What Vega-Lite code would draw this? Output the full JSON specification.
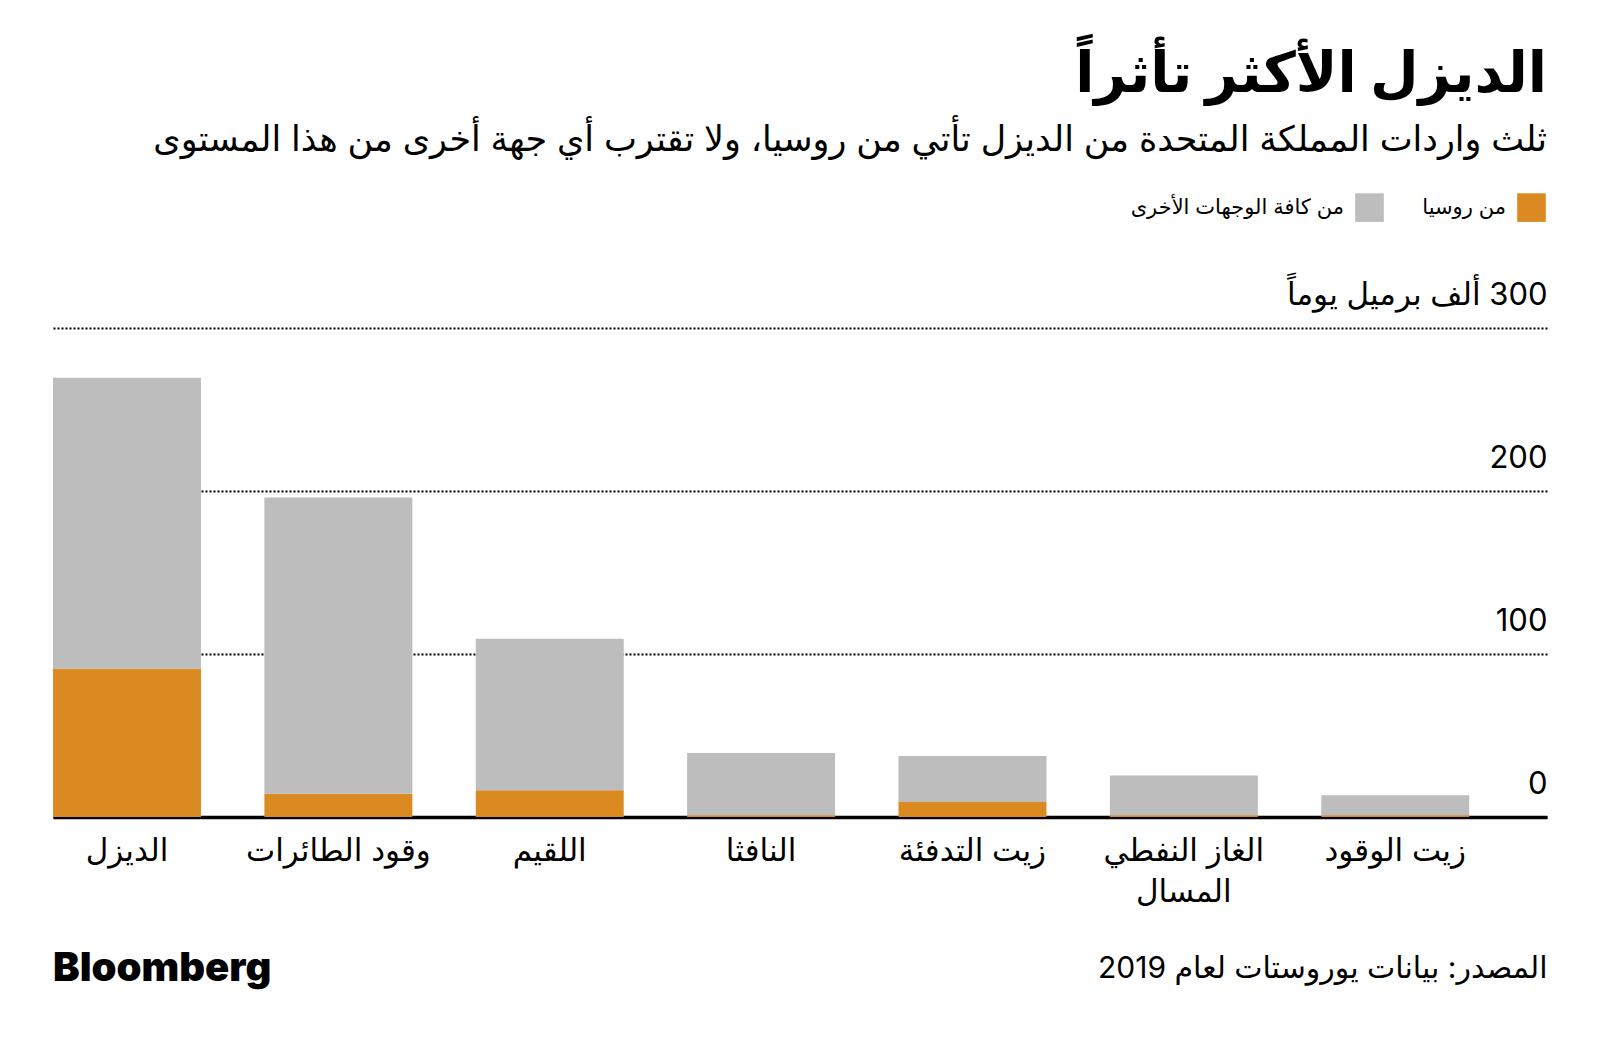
{
  "$schema": "https://vega.github.io/schema/vega-lite/v6.json",
  "background": "white",
  "padding": {"left": 53, "right": 53, "top": 47, "bottom": 10},
  "title": {
    "text": "الديزل الأكثر تأثراً",
    "subtitle": "ثلث واردات المملكة المتحدة من الديزل تأتي من روسيا، ولا تقترب أي جهة أخرى من هذا المستوى",
    "anchor": "end",
    "font": "Inter, DejaVu Sans",
    "fontSize": 56,
    "fontWeight": "bold",
    "color": "black",
    "subtitleFont": "Inter, DejaVu Sans",
    "subtitleFontSize": 35,
    "subtitleColor": "black",
    "subtitlePadding": 19,
    "offset": 34
  },
  "vconcat": [
    {
      "width": 1494,
      "height": 489,
      "title": {
        "text": "Bloomberg",
        "orient": "bottom",
        "anchor": "start",
        "font": "Inter",
        "fontSize": 40,
        "fontWeight": 900,
        "color": "black",
        "offset": -34
      },
      "data": {
        "values": [
          {"product": "الديزل", "series": "من روسيا", "value": 91},
          {"product": "الديزل", "series": "من كافة الوجهات الأخرى", "value": 178.5},
          {"product": "وقود الطائرات", "series": "من روسيا", "value": 14.3},
          {"product": "وقود الطائرات", "series": "من كافة الوجهات الأخرى", "value": 181.7},
          {"product": "اللقيم", "series": "من روسيا", "value": 16.4},
          {"product": "اللقيم", "series": "من كافة الوجهات الأخرى", "value": 93},
          {"product": "النافثا", "series": "من روسيا", "value": 1},
          {"product": "النافثا", "series": "من كافة الوجهات الأخرى", "value": 38.2},
          {"product": "زيت التدفئة", "series": "من روسيا", "value": 9.2},
          {"product": "زيت التدفئة", "series": "من كافة الوجهات الأخرى", "value": 28.3},
          {"product": "الغاز النفطي المسال", "series": "من روسيا", "value": 1},
          {"product": "الغاز النفطي المسال", "series": "من كافة الوجهات الأخرى", "value": 24.4},
          {"product": "زيت الوقود", "series": "من روسيا", "value": 1},
          {"product": "زيت الوقود", "series": "من كافة الوجهات الأخرى", "value": 12.3}
        ]
      },
      "mark": {"type": "bar"},
      "encoding": {
        "x": {
          "field": "product",
          "type": "nominal",
          "sort": null,
          "scale": {"paddingInner": 0.3, "paddingOuter": 0.184, "align": 0},
          "axis": {
            "title": "المصدر: بيانات يوروستات لعام 2019",
            "titleAnchor": "end",
            "titleFont": "Inter, DejaVu Sans",
            "titleFontSize": 30,
            "titleFontWeight": "normal",
            "titleColor": "black",
            "titlePadding": 46,
            "labelAngle": 0,
            "labelFont": "Inter, DejaVu Sans",
            "labelFontSize": 31,
            "labelColor": "black",
            "labelPadding": 19,
            "labelBaseline": "top",
            "labelLineHeight": 41,
            "labelLimit": 400,
            "labelExpr": "datum.value == 'الغاز النفطي المسال' ? ['الغاز النفطي', 'المسال'] : datum.label",
            "ticks": false,
            "tickSize": 0,
            "domainColor": "black",
            "domainWidth": 3.5,
            "grid": false
          }
        },
        "y": {
          "field": "value",
          "type": "quantitative",
          "stack": "zero",
          "scale": {"domain": [0, 300]},
          "axis": {
            "orient": "right",
            "title": null,
            "values": [0, 100, 200, 300],
            "domain": false,
            "ticks": false,
            "tickSize": 0,
            "labelPadding": 0,
            "labelAlign": "right",
            "labelBaseline": "alphabetic",
            "labelOffset": -24,
            "labelFont": "Inter, DejaVu Sans",
            "labelFontSize": 31,
            "labelColor": "black",
            "labelLimit": 500,
            "labelExpr": "datum.value == 300 ? '\u202B300 ألف برميل يوماً\u202C' : datum.label",
            "grid": true,
            "gridColor": "black",
            "gridDash": [2, 2],
            "gridWidth": 2
          }
        },
        "color": {
          "field": "series",
          "type": "nominal",
          "scale": {
            "domain": ["من كافة الوجهات الأخرى", "من روسيا"],
            "range": ["#bdbdbd", "#db8a22"]
          },
          "legend": {
            "title": null,
            "orient": "none",
            "legendX": 1302,
            "legendY": -135,
            "direction": "horizontal",
            "symbolType": "square",
            "symbolSize": 820,
            "symbolStrokeWidth": 0,
            "symbolOpacity": 1,
            "labelFont": "Inter, DejaVu Sans",
            "labelFontSize": 21,
            "labelColor": "black",
            "labelOffset": -40,
            "labelAlign": "right",
            "labelLimit": 400,
            "columnPadding": 38
          }
        },
        "order": {"field": "series", "sort": "ascending"}
      }
    }
  ],
  "config": {"view": {"stroke": null}}
}
